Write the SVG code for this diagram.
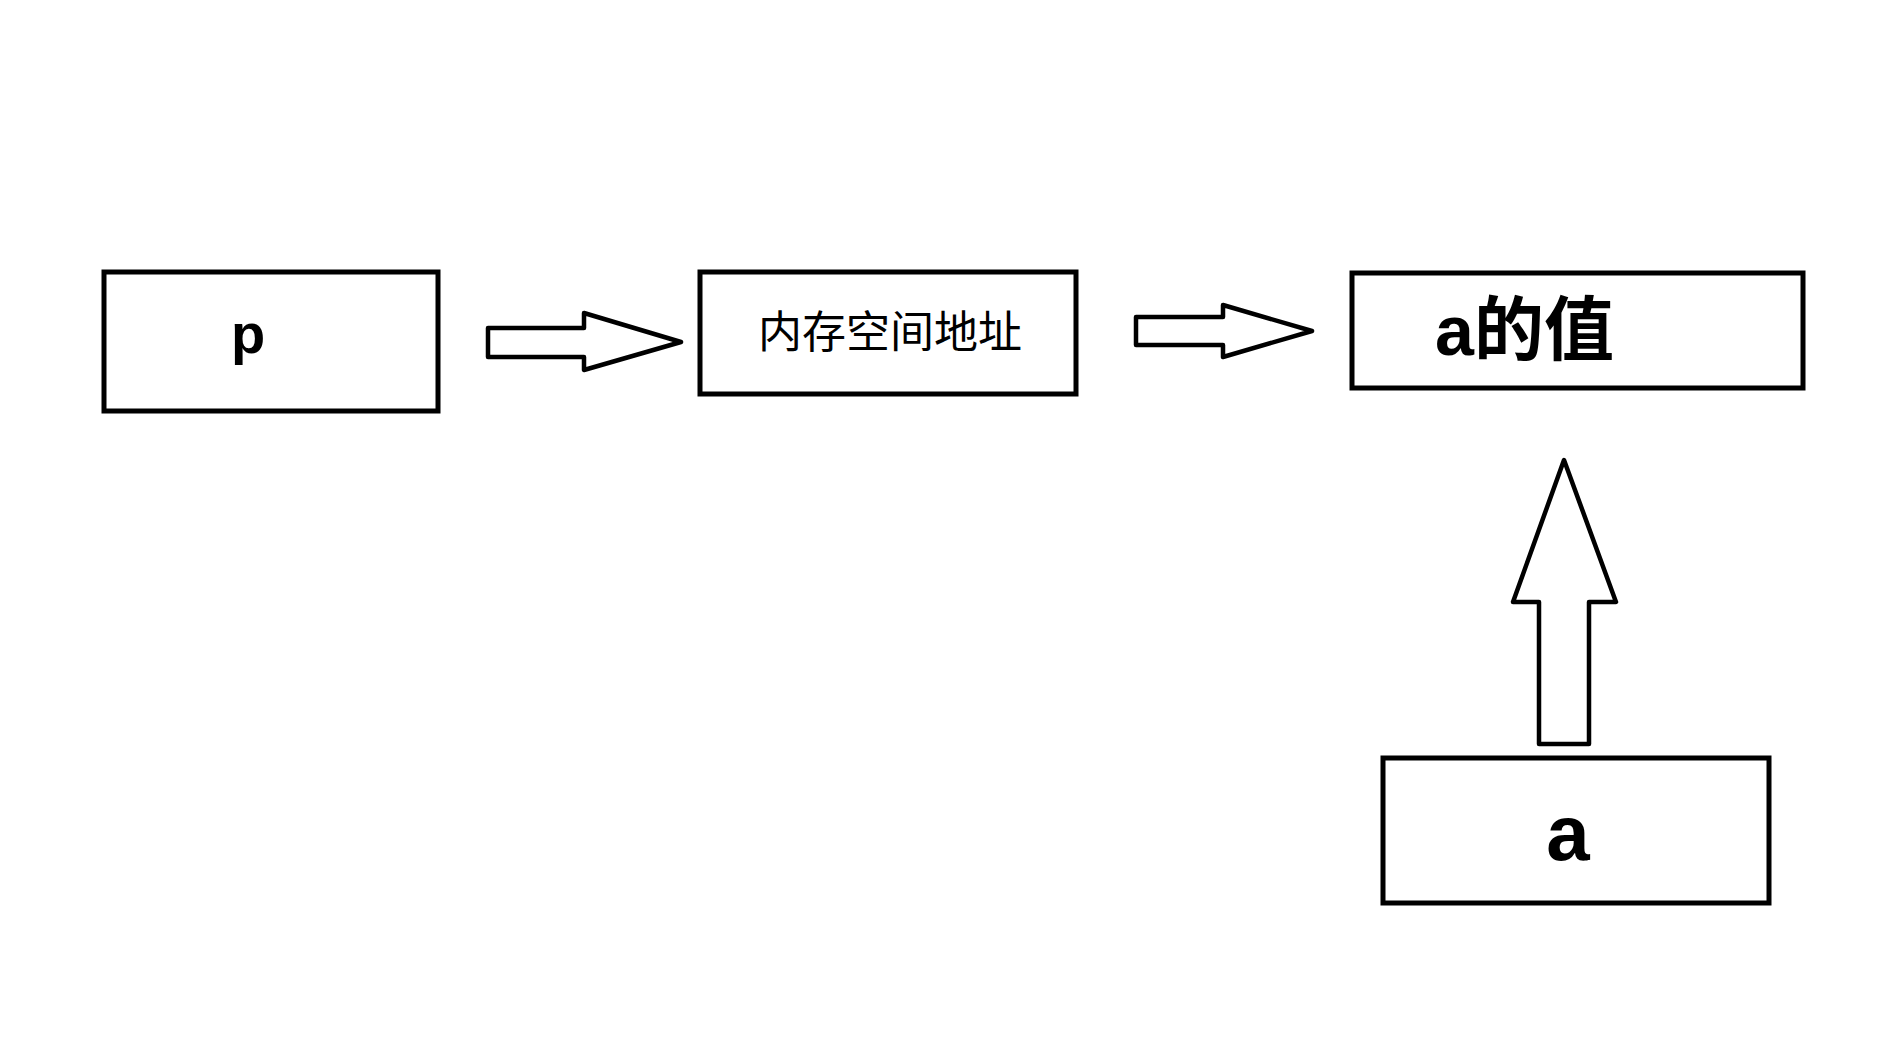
<svg xmlns="http://www.w3.org/2000/svg" width="1903" height="1055" viewBox="0 0 1903 1055">
<style>
.box{fill:#fff;stroke:#000;stroke-width:5}
.arr{fill:#fff;stroke:#000;stroke-width:4.5;stroke-linejoin:round}
.t{font-family:"Liberation Sans","Noto Sans CJK SC",sans-serif;fill:#000}
</style>
<rect width="1903" height="1055" fill="#fff"/>
<g id="connectors">
<polygon class="arr" points="488,328 584,328 584,313 681,342 584,370 584,357 488,357"/>
<polygon class="arr" points="1136,317 1223,317 1223,305 1312,331 1223,357 1223,345 1136,345"/>
<polygon class="arr" points="1539,744 1539,602 1513,602 1564,460 1616,602 1589,602 1589,744"/>
</g>
<g id="node-p">
<rect class="box" x="104" y="272" width="334" height="139"/>
<text class="t" x="231" y="353" font-size="56" font-weight="bold">p</text>
</g>
<g id="node-addr">
<rect class="box" x="700" y="272" width="376" height="122"/>
<text class="t" x="890" y="348" font-size="44" text-anchor="middle">内存空间地址</text>
</g>
<g id="node-value">
<rect class="box" x="1352" y="273" width="451" height="115"/>
<text class="t" x="1435" y="355" font-size="70" font-weight="bold">a的值</text>
</g>
<g id="node-a">
<rect class="box" x="1383" y="758" width="386" height="145"/>
<text class="t" x="1568" y="860" font-size="78" font-weight="bold" text-anchor="middle">a</text>
</g>
</svg>
